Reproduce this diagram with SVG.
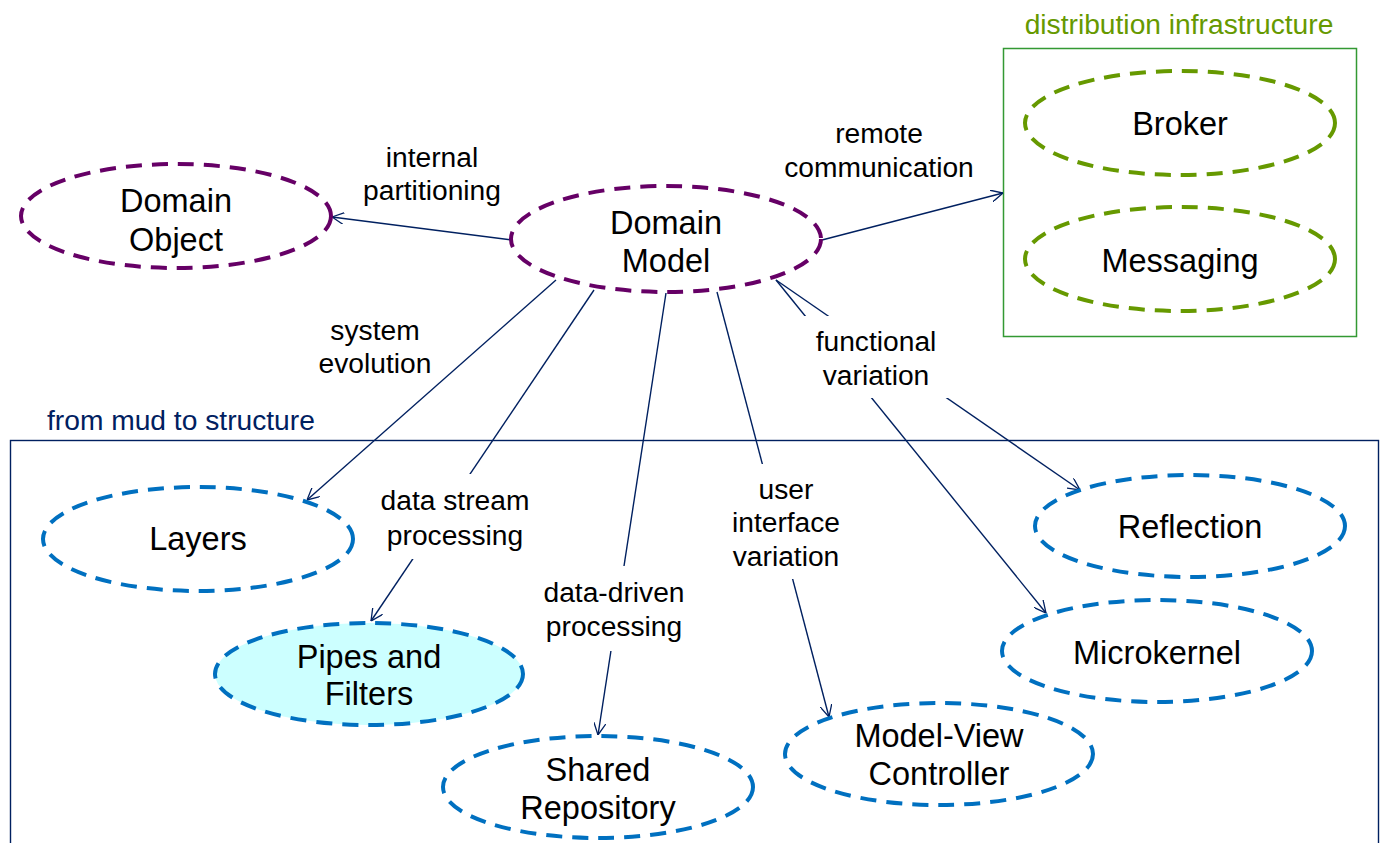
<svg xmlns="http://www.w3.org/2000/svg" width="1384" height="843" viewBox="0 0 1384 843">
<defs>
<marker id="arr" viewBox="0 0 12 12" refX="12" refY="6" markerWidth="12" markerHeight="12" markerUnits="userSpaceOnUse" orient="auto">
<path d="M0,0 L12,6 L0,12" fill="none" stroke="#002060" stroke-width="1.3"/>
</marker>
</defs>
<style>
text{font-family:"Liberation Sans",Arial,sans-serif;text-anchor:middle;fill:#000}
.node{font-size:32.5px}
.lbl{font-size:28.2px}
.ell{fill:#fff;stroke-width:4;stroke-dasharray:16 10}
.purple{stroke:#660066}
.green{stroke:#669900}
.blue{stroke:#0070C0}
.edge{stroke:#002060;stroke-width:1.4;fill:none;marker-end:url(#arr)}
.mask{fill:#fff}
</style>
<rect width="1384" height="843" fill="#fff"/>

<g id="group-mud">
<rect x="10.5" y="440.5" width="1368" height="420" fill="none" stroke="#002060" stroke-width="1.4"/>
<text x="47" y="430" style="text-anchor:start;font-size:28.2px;fill:#002060">from mud to structure</text>
</g>
<g id="group-dist">
<rect x="1003.5" y="48.5" width="353" height="288" fill="none" stroke="#339933" stroke-width="1.5"/>
<text x="1179" y="34" style="font-size:28.2px;fill:#669900">distribution infrastructure</text>
</g>

<g id="connectors">
<line class="edge" x1="512" y1="240" x2="332" y2="217"/>
<line class="edge" x1="822" y1="240" x2="1003" y2="193"/>
<line class="edge" x1="556" y1="280" x2="307" y2="500"/>
<line class="edge" x1="594" y1="290" x2="371" y2="621"/>
<line class="edge" x1="666" y1="293" x2="598" y2="735"/>
<line class="edge" x1="717" y1="292" x2="829" y2="717"/>
<line class="edge" x1="776" y1="280" x2="1046" y2="613"/>
<line class="edge" x1="776" y1="280" x2="1080" y2="490"/>
<g id="edge-labels">
<text class="lbl" x="432" y="167">internal</text>
<text class="lbl" x="432" y="200">partitioning</text>
<text class="lbl" x="879" y="143">remote</text>
<text class="lbl" x="879" y="177">communication</text>
<text class="lbl" x="375" y="340">system</text>
<text class="lbl" x="375" y="373">evolution</text>
<rect class="mask" x="376" y="474" width="159" height="85"/>
<text class="lbl" x="455" y="510">data stream</text>
<text class="lbl" x="455" y="545">processing</text>
<rect class="mask" x="538" y="566" width="154" height="85"/>
<text class="lbl" x="614" y="602">data-driven</text>
<text class="lbl" x="614" y="636">processing</text>
<rect class="mask" x="727" y="464" width="119" height="115"/>
<text class="lbl" x="786" y="499">user</text>
<text class="lbl" x="786" y="532">interface</text>
<text class="lbl" x="786" y="566">variation</text>
<rect class="mask" x="800" y="316" width="155" height="82"/>
<text class="lbl" x="876" y="351">functional</text>
<text class="lbl" x="876" y="385">variation</text>
</g>
</g>

<g id="node-domain-object">
<ellipse class="ell purple" cx="176" cy="216" rx="155" ry="52"/>
<text class="node" x="176" y="212">Domain</text>
<text class="node" x="176" y="251">Object</text>
</g>
<g id="node-domain-model">
<ellipse class="ell purple" cx="666" cy="239" rx="155" ry="53"/>
<text class="node" x="666" y="234">Domain</text>
<text class="node" x="666" y="272">Model</text>
</g>
<g id="node-broker">
<ellipse class="ell green" cx="1180" cy="123" rx="155" ry="52"/>
<text class="node" x="1180" y="135">Broker</text>
</g>
<g id="node-messaging">
<ellipse class="ell green" cx="1180" cy="259" rx="155" ry="52"/>
<text class="node" x="1180" y="272">Messaging</text>
</g>
<g id="node-layers">
<ellipse class="ell blue" cx="198" cy="539" rx="155" ry="52"/>
<text class="node" x="198" y="550">Layers</text>
</g>
<g id="node-pipes">
<ellipse class="ell blue" cx="369" cy="674" rx="154" ry="51" style="fill:#CCFFFF"/>
<text class="node" x="369" y="668">Pipes and</text>
<text class="node" x="369" y="705">Filters</text>
</g>
<g id="node-shared">
<ellipse class="ell blue" cx="598" cy="787" rx="155" ry="51"/>
<text class="node" x="598" y="781">Shared</text>
<text class="node" x="598" y="819">Repository</text>
</g>
<g id="node-mvc">
<ellipse class="ell blue" cx="939" cy="754" rx="154" ry="51"/>
<text class="node" x="939" y="747">Model-View</text>
<text class="node" x="939" y="785">Controller</text>
</g>
<g id="node-microkernel">
<ellipse class="ell blue" cx="1157" cy="651" rx="155" ry="51"/>
<text class="node" x="1157" y="664">Microkernel</text>
</g>
<g id="node-reflection">
<ellipse class="ell blue" cx="1190" cy="526" rx="155" ry="51"/>
<text class="node" x="1190" y="538">Reflection</text>
</g>
</svg>
